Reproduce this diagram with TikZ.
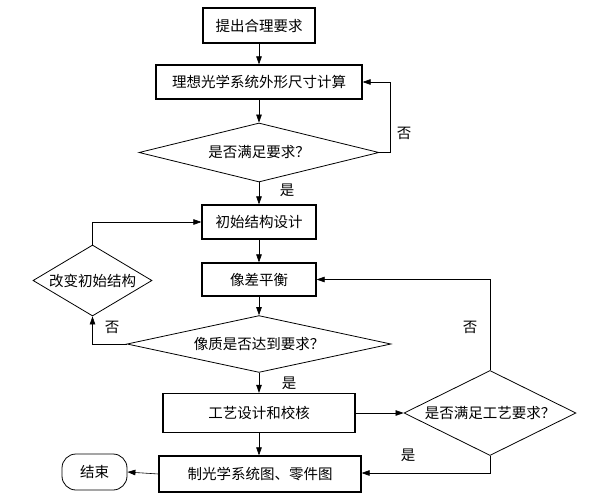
\documentclass[tikz,border=0pt]{standalone}
\usepackage{fontspec}
\newfontfamily\cjk{Noto Sans CJK SC}
\usetikzlibrary{shapes.geometric,arrows.meta}
\begin{document}
\begin{tikzpicture}[x=1pt,y=-1pt,
  every node/.style={font=\cjk\fontsize{14.5}{16}\selectfont},
  procbox/.style={draw,line width=1.2pt,inner sep=0pt,minimum width=#1},
  dia/.style={draw,diamond,line width=0.8pt,inner sep=0pt,aspect=3},
  conn/.style={line width=0.6pt},
  arr/.style={conn,-{Triangle[length=8pt,width=5.5pt]}},
  lab/.style={inner sep=0pt}]
\useasboundingbox (0,0) rectangle (596,500);
\node[procbox=112,minimum height=35] (b1) at (259,25.5) {提出合理要求};
\node[procbox=206,minimum height=34] (b2) at (259,82) {理想光学系统外形尺寸计算};
\node[dia,minimum width=240,minimum height=59] (d1) at (259,152.5) {是否满足要求？};
\node[procbox=114,minimum height=34] (b3) at (259,222) {初始结构设计};
\node[procbox=114,minimum height=33] (b4) at (259,279.5) {像差平衡};
\node[dia,minimum width=264,minimum height=52] (d2) at (259,344) {像质是否达到要求？};
\node[dia,aspect=1.6,minimum width=119,minimum height=71] (d4) at (92.5,280.5) {改变初始结构};
\node[procbox=192,minimum height=39] (b5) at (259,413) {工艺设计和校核};
\node[procbox=202,minimum height=36] (b6) at (260,474) {制光学系统图、零件图};
\node[draw,line width=0.8pt,rounded corners=14pt,minimum width=65,minimum height=36,inner sep=0pt] (end) at (94.5,472) {结束};
\node[dia,aspect=2,minimum width=172,minimum height=85] (d3) at (490,413) {是否满足工艺要求？};
\coordinate (c1) at (390,152.5);
% main flow
\draw[arr] (b1) -- (b2);
\draw[arr] (b2) -- (d1);
\draw[arr] (d1) -- (b3);
\draw[arr] (b3) -- (b4);
\draw[arr] (b4) -- (d2);
\draw[arr] (d2) -- (b5);
\draw[arr] (b5.south) -- (b5.south |- b6.north);
% loops
\draw[arr] (d1.east) -- (c1) |- (b2.east);
\draw[arr] (d2.west) -| (d4.south);
\draw[arr] (d4.north) |- (b3.west);
\draw[arr] (b5.east) -- (d3.west);
\draw[arr] (d3.south) |- ([yshift=1pt]b6.east);
\draw[arr] (d3.north) |- (b4.east);
\draw[arr] (b6.west) -- (end.east);
% labels
\node[lab] (l1) at (287,190) {是};
\node[lab] (l2) at (404,133) {否};
\node[lab] (l3) at (112,327) {否};
\node[lab] (l4) at (289,383) {是};
\node[lab] (l5) at (470,327) {否};
\node[lab] (l6) at (408,455) {是};
\end{tikzpicture}
\end{document}
